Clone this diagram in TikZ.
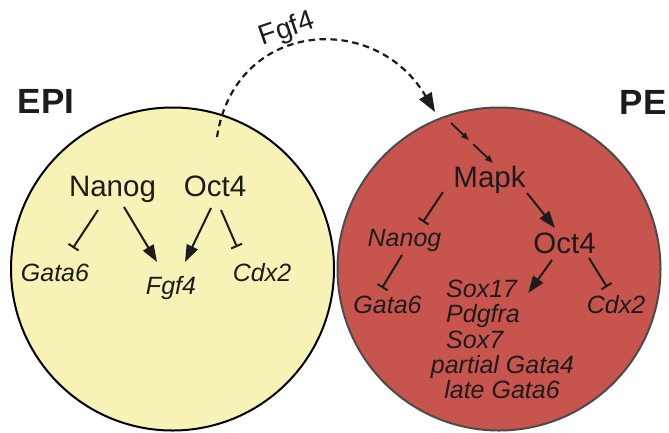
\documentclass[tikz,border=0pt]{standalone}
\usepackage{fontspec}
\setmainfont{Liberation Sans}
\usetikzlibrary{arrows.meta,calc}
\definecolor{epiFill}{RGB}{247,242,181}
\definecolor{peFill}{RGB}{200,84,78}
\definecolor{peLine}{RGB}{75,75,75}
\definecolor{ink}{RGB}{28,28,28}
\begin{document}
\begin{tikzpicture}[x=1pt,y=-1pt,
  big/.style={font=\fontsize{29.5}{30}\selectfont, inner sep=0pt, anchor=base, text=ink},
  gene/.style={font=\fontsize{25}{26}\selectfont\itshape, inner sep=0pt, anchor=base, text=ink},
  celltitle/.style={font=\fontsize{35}{36}\selectfont\bfseries, inner sep=0pt, anchor=base west, text=ink},
  siglabel/.style={font=\fontsize{28}{29}\selectfont, inner sep=0pt, text=ink},
  act/.style={draw=ink, line width=2pt, -{Triangle[length=17pt,width=12pt]}},
  inh/.style={draw=ink, line width=2pt, -{Bar[width=12pt,line width=2pt]}},
  small/.style={draw=ink, line width=1.8pt, -{Triangle[length=8pt,width=6pt]}},
  signal/.style={draw=ink, line width=2.2pt, dash pattern=on 6.5pt off 4.5pt, -{Triangle[length=19pt,width=14pt]}}
]
\useasboundingbox (0,0) rectangle (669,432);

% cells
\node[circle, draw=black, line width=2pt, fill=epiFill, minimum size=323pt, inner sep=0pt] (epiCell) at (172.5,269) {};
\node[circle, draw=peLine, line width=2pt, fill=peFill, minimum size=323pt, inner sep=0pt] (peCell) at (499,269) {};

% titles
\node[celltitle] (epiTitle) at (17.5,113) {EPI};
\node[celltitle] (peTitle) at (619.5,114.5) {PE};

% Fgf4 signal
\node[siglabel, rotate=19] (sigLbl) at (287,30) {Fgf4};
\coordinate (sigSrc) at (217,137);
\coordinate (sigDst) at (435,112);
\draw[signal] (sigSrc) .. controls (235,20) and (375,10) .. (sigDst);

% EPI contents
\node[big] (nanogE) at (112.5,196) {Nanog};
\node[big] (octE) at (215,196) {Oct4};
\node[gene] (gataE) at (55,281.5) {Gata6};
\node[gene] (fgfE) at (171,294.5) {Fgf4};
\node[gene] (cdxE) at (262,281.5) {Cdx2};

\draw[inh] ($(nanogE.base)+(-14.5,14)$) -- ($(gataE.base)+(18,-33.5)$);
\draw[act] ($(nanogE.base)+(11.5,11)$) -- ($(fgfE.base)+(-14,-32.5)$);
\draw[act] ($(octE.base)+(-4,12)$) -- ($(fgfE.base)+(14,-32.5)$);
\draw[inh] ($(octE.base)+(6,14)$) -- ($(cdxE.base)+(-25,-34.5)$);

% PE contents
\node[big] (mapk) at (489.5,187) {Mapk};
\node[gene] (nanogP) at (404.5,246) {Nanog};
\node[big] (octP) at (564.5,253) {Oct4};
\node[gene] (gataP) at (387.5,313) {Gata6};
\node[gene] (cdxP) at (616,313) {Cdx2};
\node[gene, anchor=base west] (sox17) at (446,297) {Sox17};
\node[gene, anchor=base west] (pdgfra) at (446,322) {Pdgfra};
\node[gene, anchor=base west] (sox7) at (446,348) {Sox7};
\node[gene] (gata4) at (502.5,373) {partial Gata4};
\node[gene] (lateGata6) at (502,398) {late Gata6};

\coordinate (sigIn) at (451,123);
\coordinate (mapkIn) at ($(mapk.base)+(3.5,-24)$);
\draw[small] (sigIn) -- ($(sigIn)!0.43!(mapkIn)$);
\draw[small] ($(sigIn)!0.53!(mapkIn)$) -- (mapkIn);

\draw[inh] ($(mapk.base)+(-46.5,5)$) -- ($(nanogP.base)+(18.5,-24)$);
\draw[act] ($(mapk.base)+(37.5,6)$) -- ($(octP.base)+(-9.5,-25)$);
\draw[inh] ($(nanogP.base)+(-2.5,9)$) -- ($(gataP.base)+(-5.5,-25)$);
\draw[act] ($(octP.base)+(-12.5,7)$) -- ($(sox17.base east)+(11,-4)$);
\draw[inh] ($(octP.base)+(24.5,5)$) -- ($(cdxP.base)+(-9,-26)$);
\end{tikzpicture}
\end{document}
